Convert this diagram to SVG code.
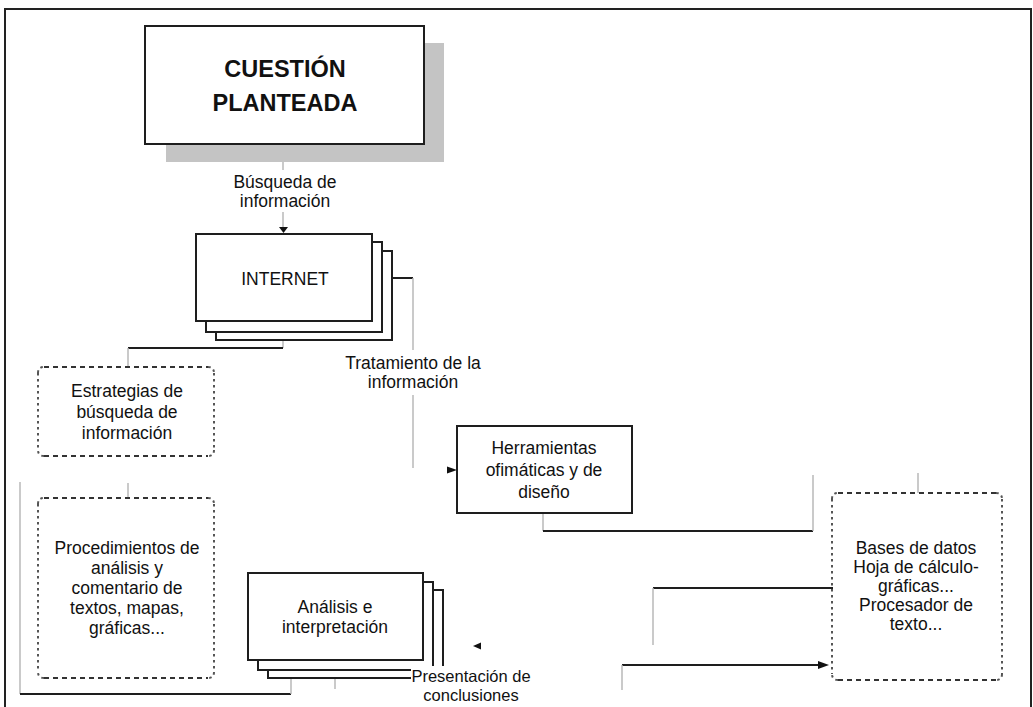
<svg xmlns="http://www.w3.org/2000/svg" width="1033" height="707" viewBox="0 0 1033 707">
<defs>
<style>
.box{fill:#fff;stroke:#1e1e1e;stroke-width:2}
.dh{fill:none;stroke:#333;stroke-width:2;stroke-dasharray:5 4}
.dv{fill:none;stroke:#555;stroke-width:2;stroke-dasharray:2.5 3.5}
.k{fill:none;stroke:#1e1e1e;stroke-width:1.8}
.g{fill:none;stroke:#b8b8b8;stroke-width:1.5}
.t{font-family:"Liberation Sans",Arial,sans-serif;font-size:17.5px;fill:#111;text-anchor:middle}
.s{font-size:16.5px}
.title{font-family:"Liberation Sans",Arial,sans-serif;font-size:23.5px;font-weight:bold;fill:#111;text-anchor:middle}
.ah{fill:#111}
</style>
</defs>
<rect width="1033" height="707" fill="#fff"/>
<g id="frame">
<path d="M5,707 V9 H1031 V707" fill="none" stroke="#222" stroke-width="2"/>
</g>
<g id="connectors">
<line class="g" x1="283" y1="144" x2="283" y2="170"/>
<line class="g" x1="283" y1="212" x2="283" y2="228"/>
<path class="ah" d="M279,227 H288 L283.5,233 Z"/>
<path class="k" d="M372,278 H413"/>
<line class="g" x1="413" y1="278" x2="413" y2="350"/>
<line class="g" x1="413" y1="395" x2="413" y2="468"/>
<path class="ah" d="M447,466.5 L457,470 L447,473.5 Z"/>
<line class="g" x1="283" y1="321" x2="283" y2="348"/>
<path class="k" d="M283,348 H128"/>
<line class="g" x1="128" y1="348" x2="128" y2="367"/>
<line class="g" x1="128" y1="483" x2="128" y2="498"/>
<line class="g" x1="20" y1="482" x2="20" y2="694"/>
<path class="k" d="M20,694 H291"/>
<line class="g" x1="291" y1="665" x2="291" y2="694"/>
<line class="g" x1="335" y1="662" x2="335" y2="689"/>
<path class="ah" d="M473,646 L481,642.5 L481,649.5 Z"/>
<line class="g" x1="543" y1="513" x2="543" y2="531"/>
<path class="k" d="M543,531 H813"/>
<line class="g" x1="813" y1="531" x2="813" y2="475"/>
<line class="g" x1="918" y1="473" x2="918" y2="493"/>
<path class="k" d="M653,588 H833"/>
<line class="g" x1="653" y1="588" x2="653" y2="645"/>
<path class="k" d="M622,665 H820"/>
<path class="ah" d="M818,661 L829,665 L818,669 Z"/>
<line class="g" x1="622" y1="665" x2="622" y2="690"/>
</g>
<g id="cuestion">
<rect x="166" y="43" width="278" height="119" fill="#c4c4c4"/>
<rect class="box" x="145" y="26" width="279" height="118"/>
<text class="title" x="285" y="77">CUESTIÓN</text>
<text class="title" x="285" y="111">PLANTEADA</text>
</g>
<g id="label-busqueda">
<text class="t" x="285" y="188">Búsqueda de</text>
<text class="t" x="285" y="207">información</text>
</g>
<g id="internet">
<rect class="box" x="216" y="251" width="176" height="89"/>
<rect class="box" x="206" y="242" width="176" height="90"/>
<rect class="box" x="196" y="234" width="176" height="87"/>
<text class="t" x="285" y="285">INTERNET</text>
</g>
<g id="label-tratamiento">
<text class="t" x="413" y="369">Tratamiento de la</text>
<text class="t" x="413" y="388">información</text>
</g>
<g id="estrategias">
<path class="dh" d="M44,367 H208 M44,456 H208"/>
<path class="dv" d="M38,373 V450 M214,373 V450"/>
<path class="dv" d="M38,373 Q38,367 44,367 M208,367 Q214,367 214,373 M214,450 Q214,456 208,456 M44,456 Q38,456 38,450"/>
<text class="t" x="127" y="397">Estrategias de</text>
<text class="t" x="127" y="418">búsqueda de</text>
<text class="t" x="127" y="439">información</text>
</g>
<g id="procedimientos">
<path class="dh" d="M44,498 H208 M44,678 H208"/>
<path class="dv" d="M38,504 V672 M214,504 V672"/>
<path class="dv" d="M38,504 Q38,498 44,498 M208,498 Q214,498 214,504 M214,672 Q214,678 208,678 M44,678 Q38,678 38,672"/>
<text class="t" x="127" y="554">Procedimientos de</text>
<text class="t" x="127" y="574">análisis y</text>
<text class="t" x="127" y="594">comentario de</text>
<text class="t" x="127" y="614">textos, mapas,</text>
<text class="t" x="127" y="634">gráficas...</text>
</g>
<g id="herramientas">
<rect class="box" x="457" y="426" width="175" height="87"/>
<text class="t" x="544" y="454">Herramientas</text>
<text class="t" x="544" y="476">ofimáticas y de</text>
<text class="t" x="544" y="498">diseño</text>
</g>
<g id="bases">
<path class="dh" d="M838,493 H996 M838,680 H996"/>
<path class="dv" d="M832,499 V674 M1002,499 V674"/>
<path class="dv" d="M832,499 Q832,493 838,493 M996,493 Q1002,493 1002,499 M1002,674 Q1002,680 996,680 M838,680 Q832,680 832,674"/>
<text class="t" x="916" y="554">Bases de datos</text>
<text class="t" x="916" y="573">Hoja de cálculo-</text>
<text class="t" x="916" y="592">gráficas...</text>
<text class="t" x="916" y="611">Procesador de</text>
<text class="t" x="916" y="630">texto...</text>
</g>
<g id="analisis">
<rect class="box" x="268" y="590" width="175" height="88"/>
<rect class="box" x="258" y="582" width="175" height="88"/>
<rect class="box" x="248" y="573" width="175" height="87"/>
<text class="t" x="335" y="613">Análisis e</text>
<text class="t" x="335" y="633">interpretación</text>
</g>
<g id="label-presentacion">
<rect x="411" y="666" width="122" height="41" fill="#fff"/>
<text class="t s" x="471" y="682">Presentación de</text>
<text class="t s" x="471" y="701">conclusiones</text>
</g>
</svg>
